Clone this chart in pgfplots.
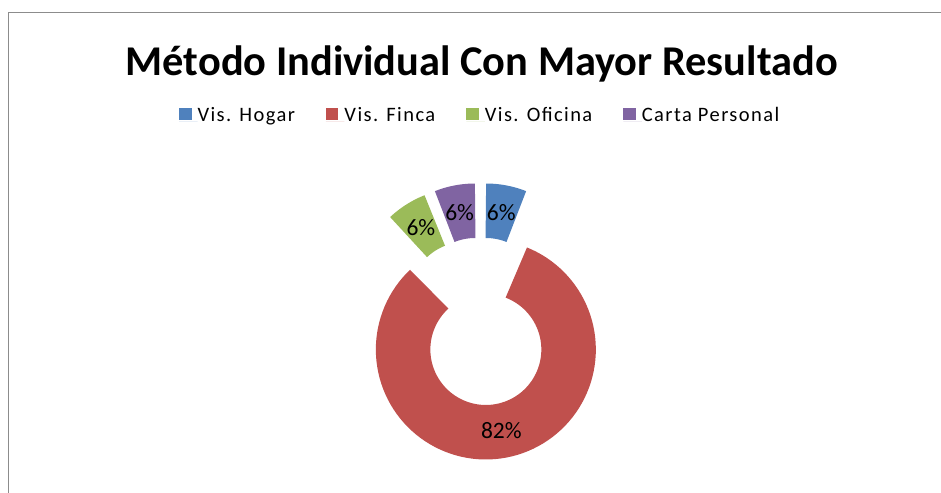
\documentclass[border=0pt]{standalone}
\usepackage{pgfplots}
\pgfplotsset{compat=1.18}
\usepackage{pgfplotstable}
\usepackage{fontspec}
\setmainfont{Carlito}
\newfontfamily\legfont{Carlito}[LetterSpace=7]
\definecolor{cHogar}{HTML}{4F81BD}
\definecolor{cFinca}{HTML}{C0504D}
\definecolor{cOficina}{HTML}{9BBB59}
\definecolor{cCarta}{HTML}{8064A2}
\definecolor{cFrame}{HTML}{8C8C8C}

\pgfplotstableread[col sep=comma]{
name,value
Vis. Hogar,6
Vis. Finca,82
Vis. Oficina,6
Carta Personal,6
}\datatable

\begin{document}
\begin{tikzpicture}
\pgfplotstablegetelem{0}{value}\of\datatable \pgfmathtruncatemacro\vA{\pgfplotsretval}
\pgfplotstablegetelem{1}{value}\of\datatable \pgfmathtruncatemacro\vB{\pgfplotsretval}
\pgfplotstablegetelem{2}{value}\of\datatable \pgfmathtruncatemacro\vC{\pgfplotsretval}
\pgfplotstablegetelem{3}{value}\of\datatable \pgfmathtruncatemacro\vD{\pgfplotsretval}
\pgfmathsetmacro\sA{90}
\pgfmathsetmacro\eA{\sA-3.6*\vA}
\pgfmathsetmacro\mA{(\sA+\eA)/2}
\pgfmathsetmacro\sB{\eA}
\pgfmathsetmacro\eB{\sB-3.6*\vB}
\pgfmathsetmacro\mB{(\sB+\eB)/2}
\pgfmathsetmacro\sC{\eB}
\pgfmathsetmacro\eC{\sC-3.6*\vC}
\pgfmathsetmacro\mC{(\sC+\eC)/2}
\pgfmathsetmacro\sD{\eC}
\pgfmathsetmacro\eD{\sD-3.6*\vD}
\pgfmathsetmacro\mD{(\sD+\eD)/2}
\def\ox{480.5}\def\oy{170.5}\def\dx{28.5}\def\rmid{82.75}
\begin{axis}[
  at={(0,0)}, anchor=south west,
  x=1pt, y=1pt, scale only axis,
  xmin=0, xmax=941, ymin=0, ymax=492,
  hide axis, clip=false,
  legend columns=4,
  legend image code/.code={\fill[#1, draw=none, line width=0pt] (0pt,2pt) rectangle (12.5pt,14.3pt); \path[draw=none, line width=0pt] (0pt,0pt) -- (18.5pt,0pt);},
  legend style={at={(axis cs:179,376.5)}, anchor=west, draw=none, fill=none,
    inner sep=0pt, outer sep=0pt, column sep=0pt,
    font=\legfont\fontsize{20.5}{24}\selectfont,
    cells={anchor=base west}, nodes={inner sep=0pt},
    /tikz/every even column/.append style={column sep=31pt}},
  arc/.style={line cap=butt, line join=miter, line width=54.5pt, mark=none, forget plot},
]
\addplot[arc, color=cHogar, domain=\eA:\sA, samples=21, variable=\t]
  ({\ox+\dx*cos(\mA)+\rmid*cos(\t)}, {\oy+\dx*sin(\mA)+\rmid*sin(\t)})
  node[pos=0.5, text=black, font=\fontsize{23.5}{28}\selectfont] {\vA\%};
\addplot[arc, color=cFinca, domain=\eB:\sB, samples=101, variable=\t]
  ({\ox+\dx*cos(\mB)+\rmid*cos(\t)}, {\oy+\dx*sin(\mB)+\rmid*sin(\t)})
  node[pos=0.5, text=black, font=\fontsize{23.5}{28}\selectfont] {\vB\%};
\addplot[arc, color=cOficina, domain=\eC:\sC, samples=21, variable=\t]
  ({\ox+\dx*cos(\mC)+\rmid*cos(\t)}, {\oy+\dx*sin(\mC)+\rmid*sin(\t)})
  node[pos=0.5, text=black, font=\fontsize{23.5}{28}\selectfont] {\vC\%};
\addplot[arc, color=cCarta, domain=\eD:\sD, samples=21, variable=\t]
  ({\ox+\dx*cos(\mD)+\rmid*cos(\t)}, {\oy+\dx*sin(\mD)+\rmid*sin(\t)})
  node[pos=0.5, text=black, font=\fontsize{23.5}{28}\selectfont] {\vD\%};
\addlegendimage{fill=cHogar, draw=none}
\addlegendentry{Vis. Hogar}
\addlegendimage{fill=cFinca, draw=none}
\addlegendentry{Vis. Finca}
\addlegendimage{fill=cOficina, draw=none}
\addlegendentry{Vis. Oficina}
\addlegendimage{fill=cCarta, draw=none}
\addlegendentry{Carta Personal}
\node[font=\fontsize{42.4}{50}\selectfont\bfseries, anchor=base] at (axis cs:481.7,416) {Método Individual Con Mayor Resultado};
\draw[cFrame, line width=1.5pt] (axis cs:8.5,-10) -- (axis cs:8.5,479.5) -- (axis cs:960,479.5);
\end{axis}
\pgfresetboundingbox
\useasboundingbox (0,0) rectangle (941pt,492pt);
\end{tikzpicture}
\end{document}
